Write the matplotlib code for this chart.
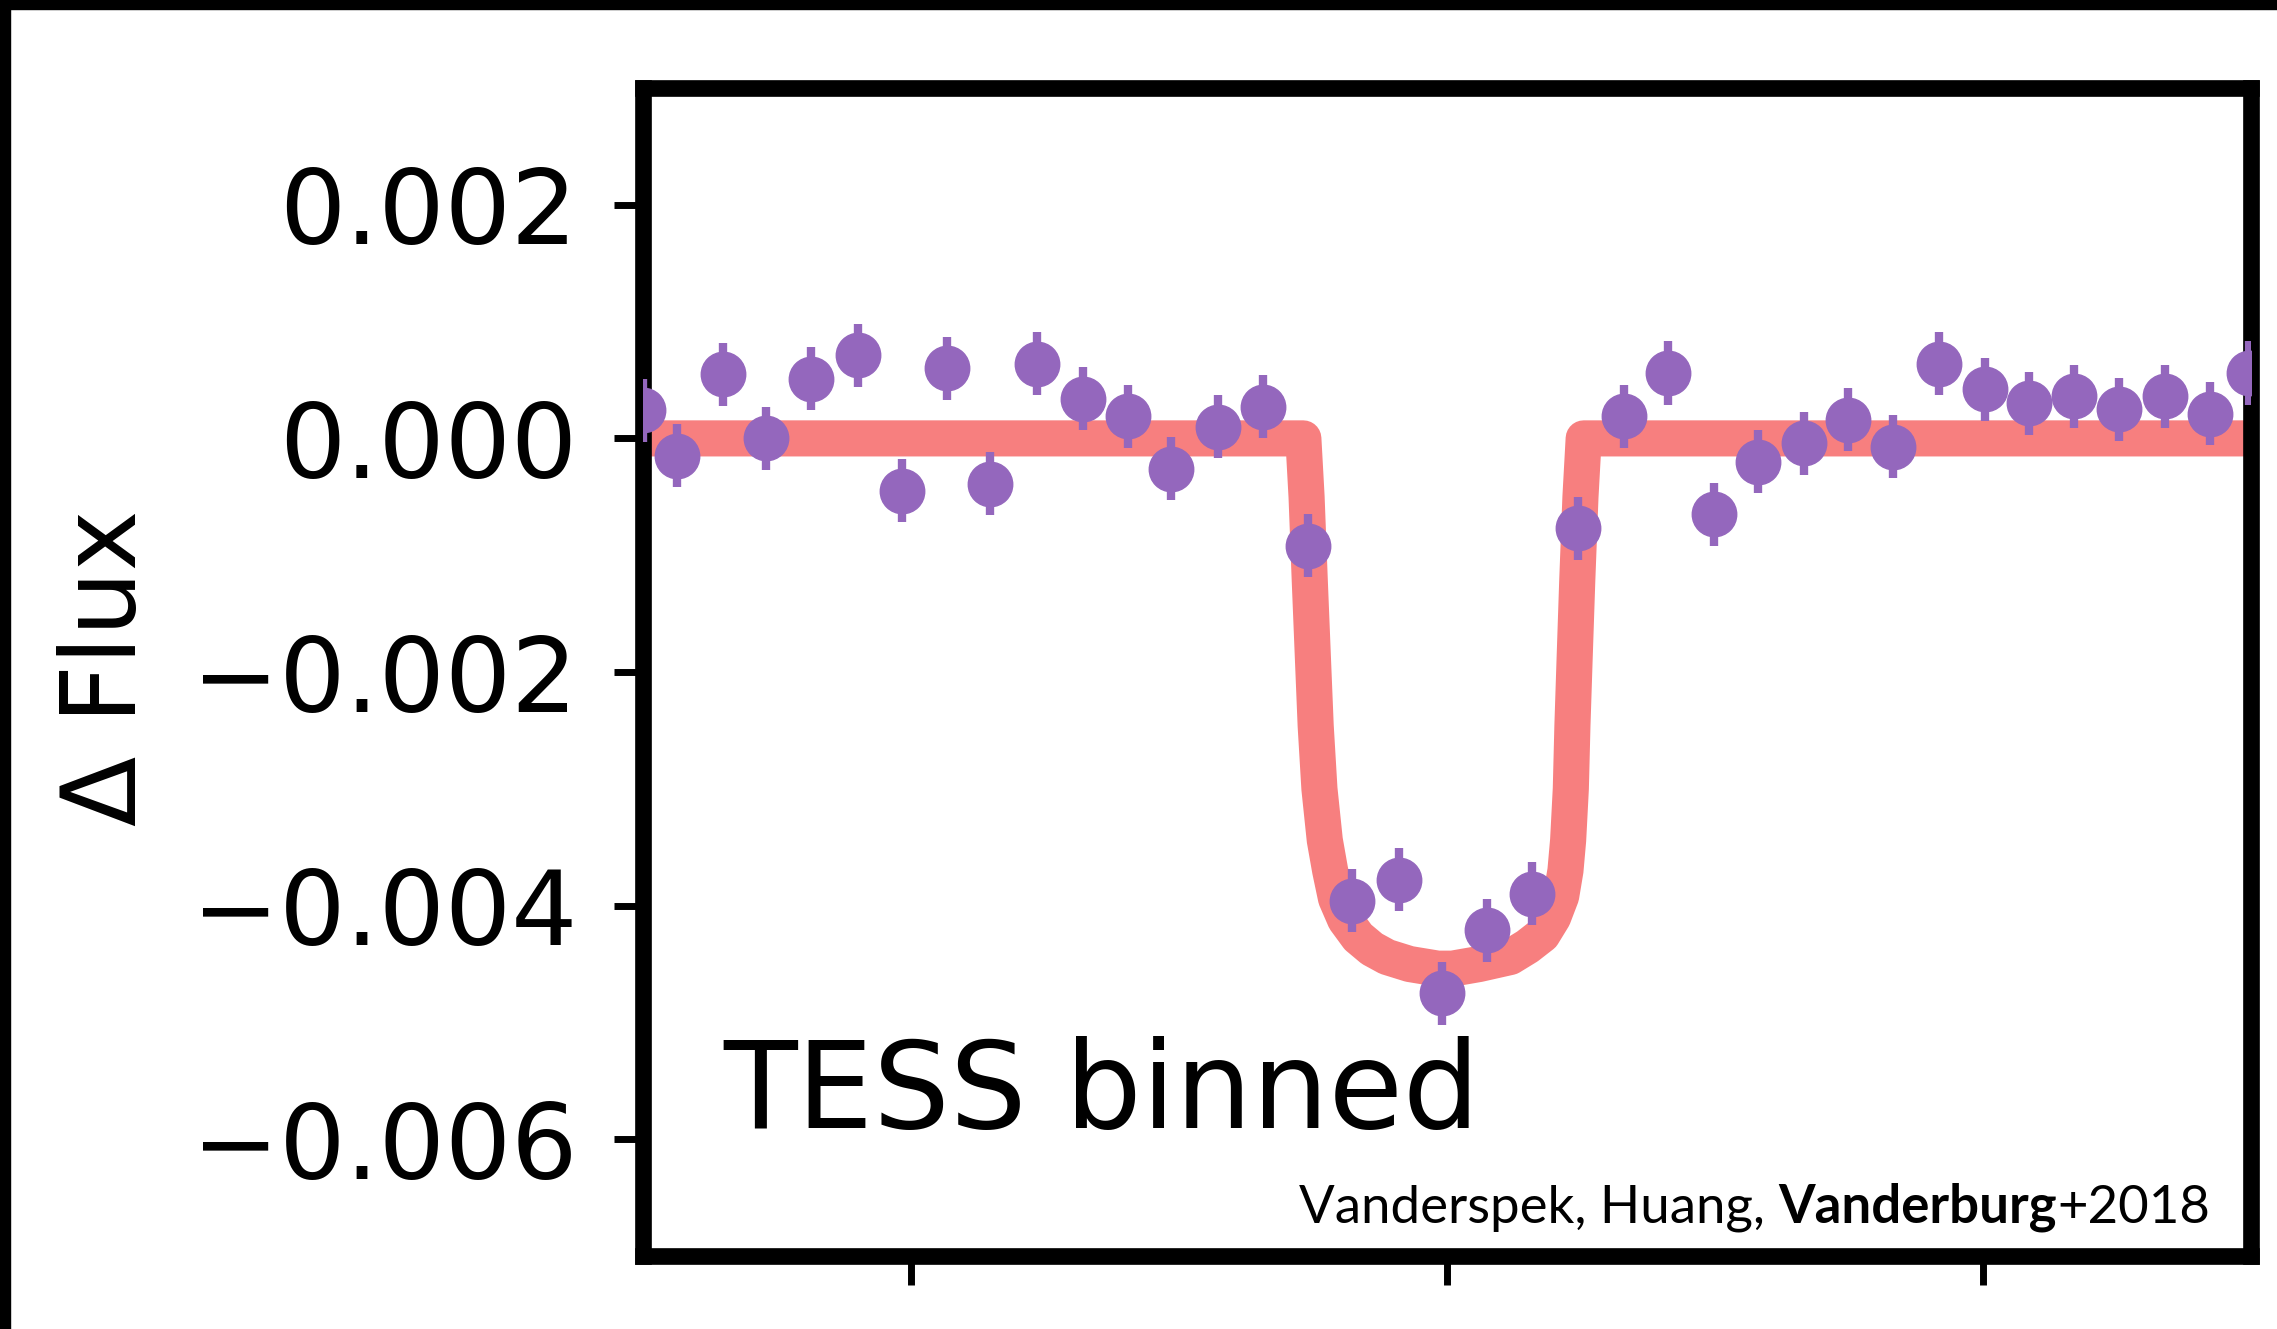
import numpy as np
import matplotlib.pyplot as plt
from matplotlib.patches import Rectangle
from matplotlib.ticker import FuncFormatter

# binned TESS light curve (time from mid-transit, relative flux)
t_bin = [-1.500, -1.436, -1.351, -1.271, -1.187, -1.098, -1.016, -0.932, -0.852,
         -0.764, -0.680, -0.596, -0.514, -0.427, -0.343, -0.260, -0.177, -0.090,
         -0.009, 0.075, 0.159, 0.244, 0.330, 0.413, 0.498, 0.580, 0.666, 0.749,
         0.832, 0.917, 1.003, 1.086, 1.170, 1.253, 1.340, 1.424, 1.497]
f_bin = [0.00024, -0.00015, 0.00055, 0.00000, 0.00051, 0.00071, -0.00045, 0.00060, -0.00039,
         0.00064, 0.00034, 0.00019, -0.00026, 0.00010, 0.00027, -0.00092, -0.00396, -0.00378,
         -0.00475, -0.00421, -0.00390, -0.00077, 0.00019, 0.00056, -0.00065, -0.00020, -0.00004, 0.00016,
         -0.00007, 0.00064, 0.00042, 0.00030, 0.00036, 0.00025, 0.00036, 0.00021, 0.00056]
f_err = 0.00027

# transit model
t_model = [-1.5, -0.268, -0.262, -0.256, -0.250, -0.245, -0.238, -0.228, -0.218, -0.207,
           -0.190, -0.166, -0.140, -0.112, -0.070, -0.017, 0.010, 0.060, 0.118, 0.150,
           0.178, 0.198, 0.213, 0.221, 0.226, 0.231, 0.234, 0.238, 0.243, 0.249, 0.255, 1.5]
f_model = [0.0, 0.0, -0.00050, -0.00122, -0.00190, -0.00246, -0.00300, -0.00344, -0.00370, -0.00394,
           -0.00412, -0.00427, -0.00437, -0.00444, -0.00450, -0.00454, -0.00454, -0.00450, -0.00444, -0.00435,
           -0.00425, -0.00410, -0.00392, -0.00370, -0.00344, -0.00300, -0.00246, -0.00190, -0.00122, -0.00050,
           0.0, 0.0]

W, H = 2277, 1329
fig = plt.figure(figsize=(W / 100, H / 100), dpi=100)
ax = fig.add_axes([643 / W, 1 - 1256 / H, (2251 - 643) / W, (1256 - 88) / H])

ax.plot(t_model, f_model, color='#f77f7f', lw=26, solid_capstyle='round',
        solid_joinstyle='round', zorder=2)
ax.errorbar(t_bin, f_bin, yerr=f_err, fmt='o', color='#9467bd', ms=32,
            elinewidth=6, capsize=0, zorder=3)

ax.set_xlim(-1.5, 1.5)
ax.set_ylim(-0.007, 0.003)
ax.set_xticks([-1, 0, 1])
ax.set_xticklabels([])
ax.set_yticks([0.002, 0.0, -0.002, -0.004, -0.006])
ax.yaxis.set_major_formatter(FuncFormatter(
    lambda v, p: ('%.3f' % abs(v)) if abs(v) < 1e-9 else ('%.3f' % v).replace('-', '\u2212')))
for s in ax.spines.values():
    s.set_linewidth(12)
ax.tick_params(length=21, width=5, pad=26, labelsize=75)

fig.text(108 / W, 1 - 668 / H, '\u0394 Flux', rotation=90, ha='center', va='center', fontsize=74)
ax.text(-1.35, -0.0059, 'TESS binned', fontsize=87, ha='left', va='baseline')

# citation, bold author in the middle
fig.canvas.draw()
r = fig.canvas.get_renderer()
x_right = 2210 / W
y_base = 1 - 1223 / H
parts = [('+2018', 'normal'), ('Vanderburg', 'bold'), ('Vanderspek, Huang, ', 'normal')]
for s, w in parts:
    tx = fig.text(x_right, y_base, s, fontsize=38, fontweight=w, family='Lato',
                  ha='right', va='baseline')
    bb = tx.get_window_extent(renderer=r)
    x_right = bb.x0 / W

# black frame on the top and left edges
fig.patches.append(Rectangle((0, 1 - 9 / H), 1, 9 / H, transform=fig.transFigure,
                             color='black', zorder=10))
fig.patches.append(Rectangle((0, 0), 10 / W, 1, transform=fig.transFigure,
                             color='black', zorder=10))

fig.savefig('out.png', dpi=100)
